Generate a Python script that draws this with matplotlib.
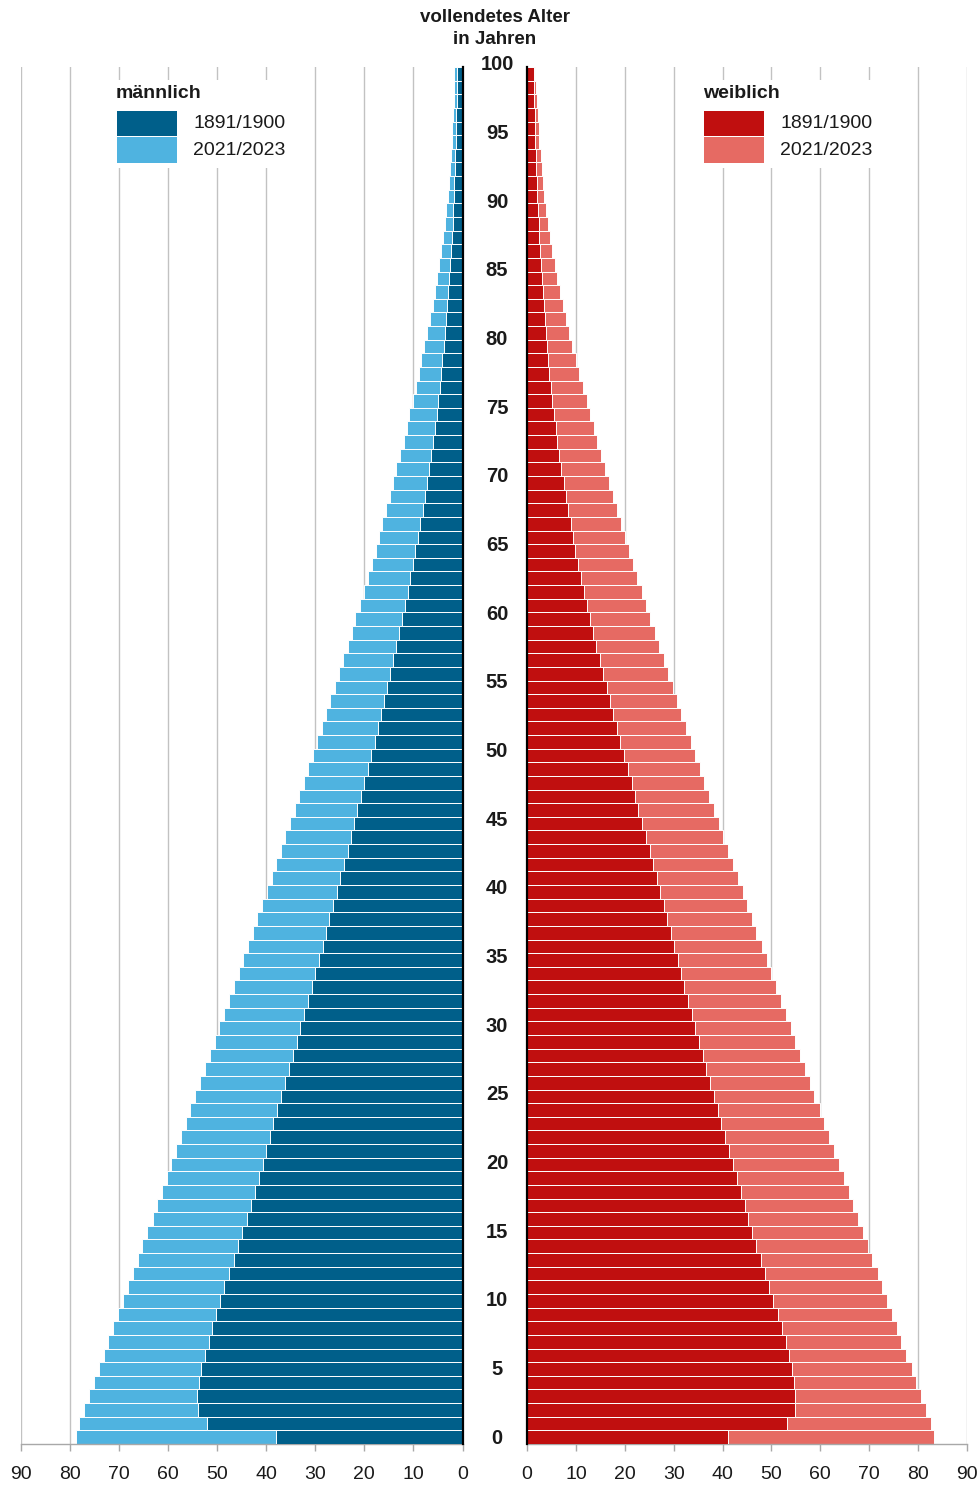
import matplotlib
matplotlib.use("Agg")
import matplotlib.pyplot as plt
from matplotlib.patches import Rectangle

plt.rcParams["font.family"] = ["Liberation Sans", "DejaVu Sans"]

# ---------- data: remaining life expectancy (years) by completed age ----------
ages = list(range(0, 101))

male_1891 = [
    37.9, 52.1, 53.8, 54.0, 53.6, 53.2, 52.5, 51.7, 51.0, 50.2,
    49.4, 48.5, 47.6, 46.6, 45.8, 44.9, 43.9, 43.1, 42.3, 41.5,
    40.7, 40.0, 39.2, 38.5, 37.7, 37.0, 36.1, 35.4, 34.6, 33.8,
    33.1, 32.3, 31.5, 30.7, 30.0, 29.3, 28.5, 27.8, 27.1, 26.4,
    25.6, 24.9, 24.1, 23.4, 22.8, 22.0, 21.4, 20.7, 20.0, 19.3,
    18.6, 17.9, 17.3, 16.7, 16.0, 15.4, 14.8, 14.2, 13.5, 12.9,
    12.3, 11.8, 11.2, 10.6, 10.1, 9.6, 9.1, 8.6, 8.1, 7.7,
    7.2, 6.8, 6.4, 6.0, 5.65, 5.25, 5.0, 4.65, 4.4, 4.1,
    3.8, 3.55, 3.35, 3.1, 2.9, 2.7, 2.55, 2.35, 2.2, 2.0,
    1.85, 1.8, 1.65, 1.5, 1.45, 1.4, 1.3, 1.25, 1.2, 1.1,
    1.05,
]
male_2021 = [
    78.8, 78.1, 77.0, 76.1, 75.1, 74.1, 73.1, 72.1, 71.1, 70.1,
    69.1, 68.1, 67.1, 66.1, 65.2, 64.2, 63.1, 62.2, 61.2, 60.2,
    59.3, 58.3, 57.4, 56.4, 55.4, 54.4, 53.4, 52.4, 51.5, 50.5,
    49.5, 48.5, 47.5, 46.6, 45.6, 44.7, 43.7, 42.7, 41.8, 40.8,
    39.9, 38.9, 38.0, 37.0, 36.1, 35.1, 34.2, 33.3, 32.3, 31.4,
    30.5, 29.6, 28.7, 27.8, 26.9, 26.0, 25.2, 24.3, 23.4, 22.6,
    21.8, 20.95, 20.1, 19.3, 18.5, 17.7, 17.0, 16.3, 15.5, 14.85,
    14.15, 13.5, 12.7, 12.0, 11.4, 10.8, 10.1, 9.5, 8.9, 8.4,
    7.8, 7.2, 6.65, 6.1, 5.65, 5.2, 4.8, 4.4, 4.0, 3.6,
    3.3, 3.0, 2.75, 2.55, 2.4, 2.2, 2.1, 1.9, 1.8, 1.75,
    1.7,
]
female_1891 = [
    41.1, 53.1, 54.9, 54.9, 54.7, 54.2, 53.6, 52.9, 52.1, 51.3,
    50.4, 49.6, 48.7, 47.8, 46.9, 46.1, 45.3, 44.5, 43.7, 42.9,
    42.1, 41.3, 40.5, 39.7, 39.0, 38.2, 37.4, 36.7, 35.9, 35.2,
    34.4, 33.7, 32.9, 32.2, 31.5, 30.8, 30.1, 29.4, 28.6, 28.0,
    27.2, 26.5, 25.8, 25.1, 24.3, 23.5, 22.8, 22.1, 21.4, 20.6,
    19.9, 19.0, 18.4, 17.6, 16.9, 16.3, 15.6, 14.9, 14.2, 13.5,
    12.9, 12.3, 11.7, 11.1, 10.5, 9.9, 9.4, 8.9, 8.4, 8.0,
    7.5, 7.0, 6.6, 6.2, 5.85, 5.5, 5.2, 4.9, 4.55, 4.3,
    4.0, 3.8, 3.6, 3.4, 3.2, 3.0, 2.8, 2.65, 2.5, 2.4,
    2.25, 2.1, 2.0, 1.85, 1.75, 1.7, 1.65, 1.55, 1.5, 1.45,
    1.4,
]
female_2021 = [
    83.3, 82.6, 81.6, 80.6, 79.6, 78.7, 77.6, 76.6, 75.7, 74.6,
    73.6, 72.7, 71.7, 70.6, 69.7, 68.7, 67.7, 66.7, 65.8, 64.8,
    63.8, 62.8, 61.8, 60.8, 59.9, 58.8, 57.9, 56.9, 55.9, 54.9,
    53.9, 52.9, 51.9, 50.9, 49.9, 49.0, 48.0, 46.9, 46.0, 45.0,
    44.1, 43.1, 42.1, 41.2, 40.1, 39.2, 38.2, 37.3, 36.3, 35.4,
    34.4, 33.5, 32.5, 31.6, 30.7, 29.8, 28.8, 28.0, 27.0, 26.1,
    25.2, 24.3, 23.5, 22.6, 21.7, 20.9, 20.0, 19.2, 18.4, 17.6,
    16.7, 15.9, 15.2, 14.4, 13.7, 12.9, 12.2, 11.4, 10.7, 10.0,
    9.3, 8.65, 7.95, 7.35, 6.75, 6.2, 5.65, 5.15, 4.7, 4.3,
    3.9, 3.55, 3.25, 3.0, 2.8, 2.5, 2.4, 2.2, 2.0, 1.85,
    1.7,
]

x_ticks = list(range(0, 91, 10))
age_labels = list(range(0, 101, 5))
period_labels = ["1891/1900", "2021/2023"]

C_MALE = ["#005f8a", "#4fb3e0"]
C_FEMALE = ["#c00f0f", "#e66a63"]
GRID = "#c2c2c2"

W, H = 980, 1485


def fx(px):
    return px / W


def fy(py):
    return 1 - py / H


fig = plt.figure(figsize=(W / 100, H / 100), dpi=100)
top, bottom = 67, 1444
ax_l = fig.add_axes([fx(20.6), fy(bottom), (462.5 - 20.6) / W, (bottom - top) / H])
ax_r = fig.add_axes([fx(527), fy(bottom), (967 - 527) / W, (bottom - top) / H])

for ax, new, old, cols in [(ax_l, male_2021, male_1891, C_MALE),
                           (ax_r, female_2021, female_1891, C_FEMALE)]:
    ax.barh(ages, new, height=1.0, color=cols[1], edgecolor="white", linewidth=0.7, zorder=2)
    ax.barh(ages, old, height=1.0, color=cols[0], edgecolor="white", linewidth=0.7, zorder=3)
    ax.set_ylim(-0.5, 100.5)
    ax.set_xticks(x_ticks)
    ax.set_xticklabels([str(t) for t in x_ticks], fontsize=14, color="#1a1a1a")
    ax.set_yticks([])
    ax.grid(axis="x", color=GRID, linewidth=1.0)
    ax.set_axisbelow(True)
    for s in ("top", "left", "right"):
        ax.spines[s].set_visible(False)
    ax.spines["bottom"].set_color("#a8a8a8")
    ax.spines["bottom"].set_linewidth(1.0)
    ax.tick_params(axis="x", length=5, width=1.0, color="#a8a8a8", pad=11)
    ax.axvline(0, color="black", linewidth=1.6, zorder=5, clip_on=False)

ax_l.set_xlim(90, 0)
ax_r.set_xlim(0, 90)

# age labels in the centre column
for a in age_labels:
    fig.text(fx(497), fy(1438 - 13.73 * a), str(a), ha="center", va="center",
             fontsize=14.5, fontweight="bold", color="#1a1a1a")

fig.text(fx(494.5), fy(18), "vollendetes Alter", ha="center", va="center",
         fontsize=13.5, fontweight="bold", color="#1a1a1a")
fig.text(fx(494.5), fy(39), "in Jahren", ha="center", va="center",
         fontsize=13.5, fontweight="bold", color="#1a1a1a")


def legend(x0, title, cols):
    fig.add_artist(Rectangle((fx(x0 - 14), fy(168)), 192 / W, 88 / H,
                             transform=fig.transFigure, facecolor="white",
                             edgecolor="none", zorder=6))
    fig.text(fx(x0 - 1), fy(94), title, ha="left", va="center", fontsize=14,
             fontweight="bold", color="#1a1a1a", zorder=7)
    for i, (c, lab) in enumerate(zip(cols, period_labels)):
        y0 = 111 + i * 26.5
        fig.add_artist(Rectangle((fx(x0), fy(y0 + 25)), 60 / W, 25 / H,
                                 transform=fig.transFigure, facecolor=c,
                                 edgecolor="none", zorder=7))
        fig.text(fx(x0 + 76), fy(y0 + 13), lab, ha="left", va="center",
                 fontsize=14, color="#1a1a1a", zorder=7)


legend(117, "männlich", C_MALE)
legend(704, "weiblich", C_FEMALE)

fig.savefig("out.png", dpi=100)
